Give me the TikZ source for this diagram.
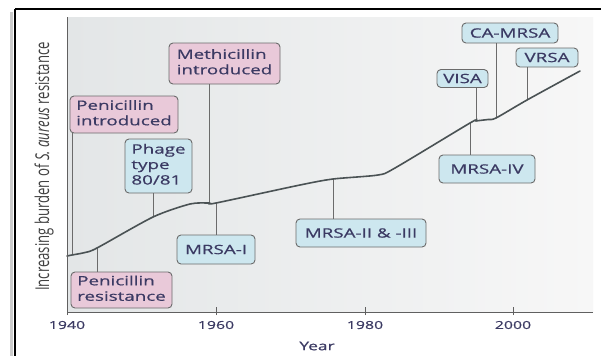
\documentclass[tikz,border=0pt]{standalone}
\usepackage{fontspec}
\setmainfont{Open Sans}
\newfontfamily\medfont{Open Sans}[FakeBold=0.5]
\usepackage{graphicx}
\definecolor{pinkfill}{HTML}{E9C9D9}
\definecolor{bluefill}{HTML}{CDE7EF}
\definecolor{boxline}{HTML}{6B6B6B}
\definecolor{txt}{HTML}{3B3A63}
\definecolor{curvecol}{HTML}{4A5254}
\definecolor{bgleft}{HTML}{E3E6E7}
\definecolor{bgright}{HTML}{F7F7F7}
\newcommand\sx[1]{\scalebox{1.45}[1]{#1}}
\newcommand\lns[1]{\sx{\begin{tabular}{@{}l@{}}#1\end{tabular}}}
\tikzset{
  box/.style={draw=boxline, line width=0.9bp, rounded corners=4bp, inner sep=0pt,
    text=txt, font=\medfont\fontsize{13}{15.5}\selectfont},
  pinkbox/.style={box, fill=pinkfill},
  bluebox/.style={box, fill=bluefill},
  drop/.style={draw=boxline, line width=1bp},
  ticklab/.style={text=txt, font=\medfont\fontsize{11}{13}\selectfont, inner sep=0pt},
  axisline/.style={draw=gray!75!black, line width=1bp}
}
\begin{document}
\begin{tikzpicture}[x=1bp,y=-1bp]
\useasboundingbox (0,0) rectangle (601,356);
\fill[white] (0,0) rectangle (601,356);
% frame with shadow
\draw[gray!40, line width=3bp] (11,12) -- (11,356);
\draw[black, line width=2.6bp] (15,9) -- (601,9);
\draw[black, line width=2.6bp] (15,9) -- (15,356);
% plot background
\shade[left color=bgleft, right color=bgright] (67,17) rectangle (593,312);
% curve coordinates
\coordinate (cpenin) at (72,255);
\coordinate (cpenres) at (97,248);
\coordinate (cphage) at (153,217);
\coordinate (cmeth) at (209,203);
\coordinate (cmrsa1) at (216,203);
\coordinate (cmrsa2) at (333,179);
\coordinate (cmrsa4) at (470,123);
\coordinate (cvisa) at (476,121);
\coordinate (cca) at (496,118);
\coordinate (cvrsa) at (527,100);
% boxes
\node[pinkbox, minimum width=111bp, minimum height=41bp] (meth) at (224.5,63.5) {\lns{Methicillin\\introduced}};
\node[pinkbox, minimum width=108bp, minimum height=37bp] (penin) at (124,114.5) {\lns{Penicillin\\introduced}};
\node[bluebox, minimum width=67bp, minimum height=54bp] (phage) at (158.5,166) {\lns{Phage\\type\\80/81}};
\node[pinkbox, minimum width=101bp, minimum height=36bp] (penres) at (121.5,290) {\lns{Penicillin\\resistance}};
\node[bluebox, minimum width=78bp, minimum height=29bp] (mrsa1) at (216,249.5) {\sx{MRSA-I}};
\node[bluebox, minimum width=130bp, minimum height=28bp] (mrsa2) at (361,233) {\sx{MRSA-II \& -III}};
\node[bluebox, minimum width=96bp, minimum height=28bp] (mrsa4) at (487,169) {\sx{MRSA-IV}};
\node[bluebox, minimum width=51bp, minimum height=18bp] (visa) at (462.5,78.5) {\sx{VISA}};
\node[bluebox, minimum width=96bp, minimum height=20bp] (ca) at (510,33) {\sx{CA-MRSA}};
\node[bluebox, minimum width=62bp, minimum height=19bp] (vrsa) at (547,57.5) {\sx{VRSA}};
% drop lines
\draw[drop] (cpenin |- penin.south) -- (cpenin);
\draw[drop] (cpenres) -- (cpenres |- penres.north);
\draw[drop] (cphage |- phage.south) -- (cphage);
\draw[drop] (cmeth |- meth.south) -- (cmeth);
\draw[drop] (cmrsa1) -- (cmrsa1 |- mrsa1.north);
\draw[drop] (cmrsa2) -- (cmrsa2 |- mrsa2.north);
\draw[drop] (cmrsa4) -- (cmrsa4 |- mrsa4.north);
\draw[drop] (cvisa |- visa.south) -- (cvisa);
\draw[drop] (cca |- ca.south) -- (cca);
\draw[drop] (cvrsa |- vrsa.south) -- (cvrsa);
% curve
\draw[curvecol, line width=1.6bp, line cap=round] plot[smooth, tension=0.45] coordinates {
 (67,256) (cpenin) (85,252.5) (cpenres) (cphage) (190,204) (cmeth) (cmrsa1) (300,185) (cmrsa2)
 (378,175) (395,168) (cmrsa4) (cvisa) (488,119.5) (cca) (cvrsa) (580,71)};
% axes
\draw[axisline] (67,17) -- (67,312) -- (593,312);
\coordinate (t1940) at (67,312);
\coordinate (t1960) at (216,312);
\coordinate (t1980) at (365,312);
\coordinate (t2000) at (513,312);
\foreach \t in {t1940,t1960,t1980,t2000} \draw[axisline] ([yshift=-3bp]\t) -- ([yshift=5bp]\t);
\node[ticklab] (l1940) at (67,325) {\sx{1940}};
\node[ticklab] (l1960) at (216,325) {\sx{1960}};
\node[ticklab] (l1980) at (365,325) {\sx{1980}};
\node[ticklab] (l2000) at (513,325) {\sx{2000}};
\node[ticklab, font=\medfont\fontsize{12}{14}\selectfont] (year) at (317,346) {\sx{Year}};
\node[ticklab, text=black!75, font=\fontsize{13.2}{15}\selectfont] (ylab) at (44,166.5) {\sx{\rotatebox{90}{Increasing burden of \textit{S. aureus} resistance}}};
\end{tikzpicture}
\end{document}
